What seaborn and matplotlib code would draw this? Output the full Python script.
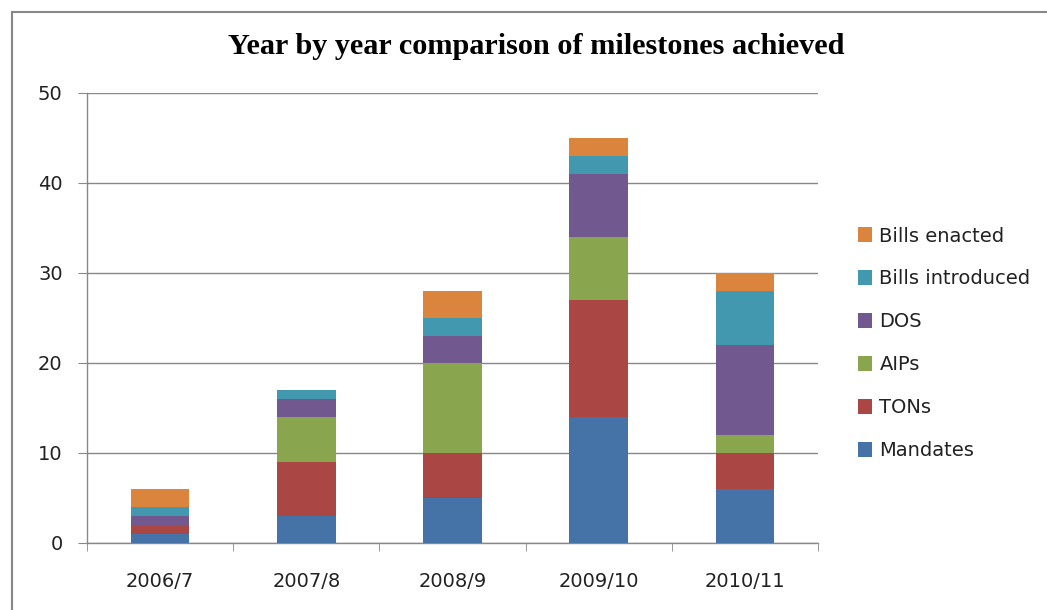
import matplotlib
matplotlib.use("Agg")
import matplotlib.pyplot as plt
import seaborn as sns
import numpy as np
from matplotlib.patches import Rectangle, Patch

years = ["2006/7", "2007/8", "2008/9", "2009/10", "2010/11"]
mandates = [1, 3, 5, 14, 6]
tons = [1, 6, 5, 13, 4]
aips = [0, 5, 10, 7, 2]
dos = [1, 2, 3, 7, 10]
bills_introduced = [1, 1, 2, 2, 6]
bills_enacted = [2, 0, 3, 2, 2]

series_names = ["Mandates", "TONs", "AIPs", "DOS", "Bills introduced", "Bills enacted"]
series_values = [mandates, tons, aips, dos, bills_introduced, bills_enacted]
colors = ["#4572A7", "#AA4643", "#89A54E", "#71588F", "#4198AF", "#DB843D"]

sns.set_style("white")
plt.rcParams['font.family'] = ['DejaVu Sans']
plt.rcParams['text.color'] = '#222222'

fig = plt.figure(figsize=(10.47, 6.10), dpi=100)
ax = fig.add_axes([87/1047, 1-543/610, (818-87)/1047, (543-93)/610])

bottom = np.zeros(len(years))
for name, vals, c in zip(series_names, series_values, colors):
    sns.barplot(x=years, y=vals, bottom=bottom.copy(), color=c, width=0.4,
                ax=ax, saturation=1, edgecolor="none", zorder=3)
    bottom += np.array(vals)

ax.set_ylim(0, 50)
ax.set_xlim(-0.5, 4.5)
ax.set_yticks(range(0, 51, 10))
ax.yaxis.grid(True, color="#888888", linewidth=1, zorder=0)
ax.set_axisbelow(True)
for s in ["top", "right"]:
    ax.spines[s].set_visible(False)
for s in ["left", "bottom"]:
    ax.spines[s].set_color("#888888")
    ax.spines[s].set_linewidth(1)

ax.tick_params(axis="y", labelsize=14, length=6.5, color="#888888", direction="out",
               left=True, pad=11, labelcolor="#222222")
ax.set_xticks(range(len(years)))
ax.set_xticklabels(years)
ax.tick_params(axis="x", labelsize=14, length=0, pad=21, labelcolor="#222222")
ax.set_xticks(np.arange(-0.5, 5.0, 1.0), minor=True)
ax.tick_params(axis="x", which="minor", length=6, color="#888888", direction="out", bottom=True)
ax.set_xlabel("")
ax.set_ylabel("")

handles = [Patch(facecolor=c, edgecolor="none") for c in colors][::-1]
labels = series_names[::-1]
leg = fig.legend(handles, labels, loc="upper left", bbox_to_anchor=(840/1047, 1-209/610),
                 frameon=False, fontsize=14, handlelength=0.77, handleheight=0.77,
                 labelspacing=1.23, handletextpad=0.36, borderpad=0.4)

fig.text(536/1047, 1-47/610, "Year by year comparison of milestones achieved",
         ha="center", va="center", fontsize=21.8, fontweight="bold", color="black",
         family=["Liberation Serif", "DejaVu Serif"])

fig.patches.append(Rectangle((12/1047, -0.1), 1.2, 1 - 12/610 + 0.1, transform=fig.transFigure,
                             fill=False, edgecolor="#888888", linewidth=1.5, figure=fig))

fig.savefig("out.png", dpi=100, facecolor="white")
